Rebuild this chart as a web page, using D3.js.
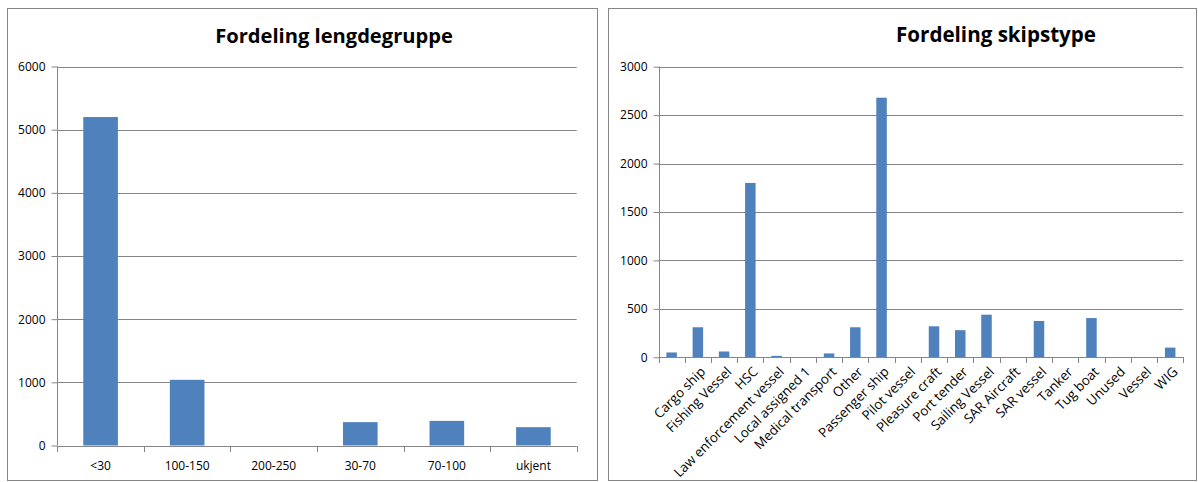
<!DOCTYPE html>
<html>
<head>
<meta charset="utf-8">
<script src="https://cdn.jsdelivr.net/npm/d3@7"></script>
<style>
  html, body { margin: 0; padding: 0; background: #fff; }
  svg { display: block; }
  text { font-family: "Open Sans", "Liberation Sans", sans-serif; }
</style>
</head>
<body>
<svg id="chart" width="1198" height="482"></svg>
<script>
// ---- Data ----
const lengthCategories = ["<30", "100-150", "200-250", "30-70", "70-100", "ukjent"];
const lengthValues = [5200, 1040, 0, 370, 390, 290];
const lengthTicks = [0, 1000, 2000, 3000, 4000, 5000, 6000];
const lengthTitle = "Fordeling lengdegruppe";

const typeCategories = ["", "Cargo ship", "Fishing Vessel", "HSC", "Law enforcement vessel",
  "Local assigned 1", "Medical transport", "Other", "Passenger ship", "Pilot vessel",
  "Pleasure craft", "Port tender", "Sailing Vessel", "SAR Aircraft", "SAR vessel",
  "Tanker", "Tug boat", "Unused", "Vessel", "WIG"];
const typeValues = [50, 310, 60, 1800, 15, 0, 40, 310, 2680, 0, 320, 280, 440, 0, 375, 0, 405, 0, 0, 100];
const typeTicks = [0, 500, 1000, 1500, 2000, 2500, 3000];
const typeTitle = "Fordeling skipstype";

const svg = d3.select("#chart");
const BAR = "#4F81BD", GRID = "#868686", BORDER = "#868686";

function fitText(sel, target) {
  const w = sel.node().getComputedTextLength();
  const fs = parseFloat(sel.attr("font-size"));
  sel.attr("font-size", fs * target / w);
}

function drawChart(cfg) {
  const g = svg.append("g");
  g.append("rect").attr("x", cfg.panel[0] + 0.5).attr("y", cfg.panel[1] + 0.5)
    .attr("width", cfg.panel[2] - cfg.panel[0]).attr("height", cfg.panel[3] - cfg.panel[1])
    .attr("fill", "#fff").attr("stroke", BORDER).attr("stroke-width", 1);

  const x = d3.scaleBand().domain(cfg.cats).range([cfg.x0, cfg.x1])
    .paddingInner(0.6).paddingOuter(0.3);
  const y = d3.scaleLinear().domain([0, cfg.ticks[cfg.ticks.length - 1]]).range([cfg.y0, cfg.y1]);

  g.append("g").selectAll("line").data(cfg.ticks.filter(t => t > 0)).join("line")
    .attr("x1", cfg.x0).attr("x2", cfg.x1)
    .attr("y1", d => Math.round(y(d)) + 0.5).attr("y2", d => Math.round(y(d)) + 0.5)
    .attr("stroke", GRID).attr("stroke-width", 1);

  const yAxis = d3.axisLeft(y).tickValues(cfg.ticks).tickSize(6).tickPadding(6).tickFormat(d3.format("d"));
  const ya = g.append("g").attr("transform", `translate(${Math.round(cfg.x0) + 0.5},0)`).call(yAxis);
  ya.select(".domain").attr("stroke", GRID).attr("d", `M0,${cfg.y1}V${cfg.y0}`);
  ya.selectAll(".tick line").attr("stroke", GRID);
  ya.selectAll(".tick text").attr("font-size", cfg.tickFont).attr("fill", "#000")
    .attr("font-family", "'Open Sans', sans-serif");

  g.append("g").selectAll("rect").data(cfg.vals).join("rect")
    .attr("x", (d, i) => x(cfg.cats[i]))
    .attr("width", x.bandwidth())
    .attr("y", d => y(d))
    .attr("height", d => y(0) - y(d))
    .attr("fill", BAR);

  g.append("line").attr("x1", cfg.x0).attr("x2", cfg.x1)
    .attr("y1", Math.round(cfg.y0) + 0.5).attr("y2", Math.round(cfg.y0) + 0.5)
    .attr("stroke", GRID);
  const step = x.step();
  const bounds = d3.range(cfg.cats.length + 1).map(i => cfg.x0 + i * step);
  g.append("g").selectAll("line").data(bounds).join("line")
    .attr("x1", d => Math.round(d) + 0.5).attr("x2", d => Math.round(d) + 0.5)
    .attr("y1", Math.round(cfg.y0)).attr("y2", Math.round(cfg.y0) + 6)
    .attr("stroke", GRID);

  const lab = g.append("g").selectAll("text").data(cfg.cats).join("text")
    .attr("font-size", cfg.labelFont).attr("fill", "#000")
    .text(d => d);
  if (cfg.rotate) {
    lab.attr("text-anchor", "end")
      .attr("transform", d => `translate(${x(d) + x.bandwidth() / 2 + 5},${cfg.y0 + 12}) rotate(-45)`)
      .attr("dy", "0.35em");
  } else {
    lab.attr("text-anchor", "middle")
      .attr("x", d => x(d) + x.bandwidth() / 2)
      .attr("y", cfg.y0 + 24);
  }

  const t = g.append("text").attr("x", cfg.titleX).attr("y", cfg.titleY)
    .attr("text-anchor", "middle").attr("font-weight", "bold").attr("font-size", 18)
    .attr("fill", "#000").text(cfg.title);
  fitText(t, cfg.titleW);
}

drawChart({
  panel: [7, 8, 597, 480],
  cats: lengthCategories, vals: lengthValues, ticks: lengthTicks, title: lengthTitle,
  x0: 57.3, x1: 576.7, y0: 445.5, y1: 66.5,
  titleX: 334, titleY: 43, titleW: 238, tickFont: 12, labelFont: 12, rotate: false
});
drawChart({
  panel: [608, 8, 1196, 480],
  cats: typeCategories, vals: typeValues, ticks: typeTicks, title: typeTitle,
  x0: 658.5, x1: 1183.3, y0: 357.3, y1: 66.7,
  titleX: 996, titleY: 42, titleW: 200, tickFont: 12, labelFont: 13.3, rotate: true
});
</script>
</body>
</html>
